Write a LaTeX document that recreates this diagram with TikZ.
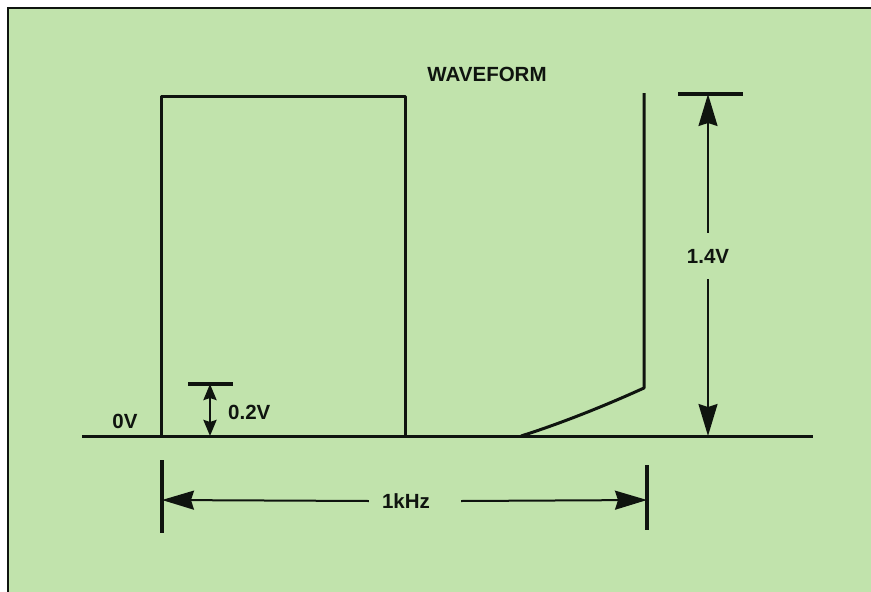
\documentclass[tikz,border=0pt]{standalone}
\usepackage{fontspec}
\setmainfont{Liberation Sans}
\usepackage{xcolor}
\usetikzlibrary{arrows.meta,positioning,calc}
\definecolor{panelgreen}{RGB}{193,227,172}
\definecolor{inkcolor}{RGB}{15,20,15}

\begin{document}
\begin{tikzpicture}[
    x=1pt, y=-1pt,
    lbl/.style={font=\fontsize{20.5}{24}\selectfont\bfseries, text=inkcolor, inner sep=0pt},
    wave/.style={draw=inkcolor, line width=3pt, line join=round},
    tickline/.style={draw=inkcolor, line width=3.5pt},
    dimarrow/.style={draw=inkcolor, fill=inkcolor, line width=2pt, -{Stealth[length=32pt, width=19pt, inset=3pt]}},
    smallarrow/.style={draw=inkcolor, fill=inkcolor, line width=2.5pt, {Stealth[length=16pt, width=13pt, inset=2pt]}-{Stealth[length=16pt, width=13pt, inset=2pt]}}
]

% Panel
\useasboundingbox (0,0) rectangle (871,592);
\fill[white] (0,0) rectangle (871,592);
\fill[panelgreen] (8,8) rectangle (871,592);
\draw[inkcolor, line width=2pt] (8,592) -- (8,8) -- (871,8);

% Title
\node[lbl] (title) at (487,74) {WAVEFORM};

% Zero line
\coordinate (baseL) at (82,436);
\coordinate (baseR) at (813,436);
\draw[wave] (baseL) -- (baseR);
\node[lbl] (zerov) at (125,421) {0V};

% Square pulse
\draw[wave] (161,436) -- (161,96) -- (405,96) -- (405,436);

% Slow rising edge
\draw[wave] (521,436) .. controls (556,425) and (600,408) .. (644,388) -- (644,93);

% 1.4V dimension
\coordinate (top14) at (708,94);
\coordinate (bot14) at (708,436);
\draw[tickline] (678,94) -- (743,94);
\node[lbl, inner ysep=16pt] (v14) at (708,256) {1.4V};
\draw[dimarrow] (v14) -- (top14);
\draw[dimarrow] (v14) -- (bot14);

% 0.2V dimension
\coordinate (top02) at (210,384);
\coordinate (bot02) at (210,436);
\draw[tickline] (188,384) -- (233,384);
\draw[smallarrow] (top02) -- (bot02);
\node[lbl, anchor=west] (v02) at (228,412) {0.2V};

% 1kHz dimension
\coordinate (hzL) at (162,500);
\coordinate (hzR) at (647,500);
\draw[tickline] (162,460) -- (162,533);
\draw[tickline] (647,465) -- (647,530);
\node[lbl] (hz) at (406,501) {1kHz};
\draw[dimarrow] ([xshift=-13pt]hz.west) -- (hzL);
\draw[dimarrow] ([xshift=31pt]hz.east) -- (hzR);

\end{tikzpicture}
\end{document}
